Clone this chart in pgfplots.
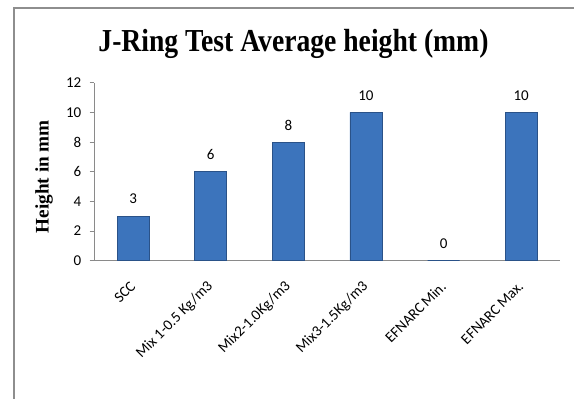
\documentclass[border=0pt]{standalone}
\usepackage{fontspec}
\usepackage{graphicx}
\usepackage{pgfplots}
\pgfplotsset{compat=1.18}
\setmainfont{Carlito}
\newfontfamily\timesfont{Liberation Serif}

\definecolor{framegray}{HTML}{8E8E8E}
\definecolor{axisgray}{HTML}{8A8A8A}
\definecolor{barfill}{HTML}{3C74BC}
\definecolor{barline}{HTML}{2A5288}

\newcommand{\lblfont}{\fontsize{11.25}{13}\selectfont}

\begin{document}
\begin{tikzpicture}
% page area (574 x 399 px at 0.75pt per px)
\useasboundingbox (0,0) rectangle (430.5pt,-299.25pt);
% chart frame, running off the right and bottom edges
\draw[framegray, line width=1.1pt] (10.5pt,-310pt) -- (10.5pt,-6pt) -- (440pt,-6pt);

% title
\node[anchor=base] at (220.1pt,-38.8pt)
  {\scalebox{0.864}[1]{\timesfont\bfseries\fontsize{24}{28}\selectfont J-Ring Test Average height (mm)}};
% y axis title
\node[rotate=90, anchor=center] at (33pt,-132.5pt)
  {\timesfont\bfseries\fontsize{14.4}{16}\selectfont Height in mm};

\begin{axis}[
  at={(70.7pt,-195.5pt)}, anchor=south west,
  scale only axis, width=349.3pt, height=133.5pt,
  xmin=-0.5, xmax=5.5, ymin=0, ymax=12,
  axis x line*=bottom, axis y line*=left,
  axis line style={axisgray, line width=0.75pt, -},
  ytick={0,2,4,6,8,10,12},
  xtick={0,1,2,3,4,5},
  xticklabels={SCC, Mix 1-0.5 Kg/m3, Mix2-1.0Kg/m3, Mix3-1.5Kg/m3, EFNARC\,Min., EFNARC\,Max.},
  xtick style={draw=none},
  ytick style={axisgray, line width=0.75pt},
  tick align=outside, major tick length=3.5pt,
  /pgf/number format/assume math mode=true,
  yticklabel style={font=\lblfont, anchor=east, inner sep=0pt, xshift=-6pt},
  xticklabel style={font=\lblfont, anchor=east, inner sep=0pt, yshift=-14pt, rotate=45},
  ybar, bar width=24pt,
  nodes near coords,
  every node near coord/.append style={font=\lblfont, anchor=center, yshift=12.75pt, black},
  clip=false,
]
\addplot[draw=barline, line width=0.4pt, fill=barfill]
  coordinates {(0,3) (1,6) (2,8) (3,10) (4,0) (5,10)};
\end{axis}
\end{tikzpicture}
\end{document}
